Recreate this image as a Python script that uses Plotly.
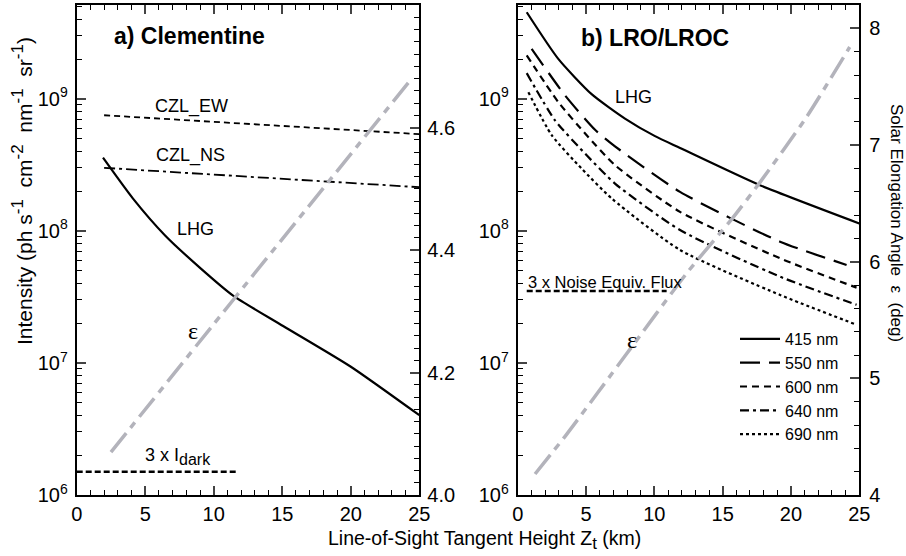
import numpy as np
import plotly.graph_objects as go

# ---------------- data ----------------
# Panel a) Clementine
a_czl_ew_x = [2.0, 25.0]
a_czl_ew_y = [7.5e8, 5.4e8]
a_czl_ns_x = [2.0, 25.0]
a_czl_ns_y = [3.0e8, 2.14e8]
a_lhg_x = [1.92, 4.11, 6.45, 9.0, 11.41, 15.06, 19.95, 25.0]
a_lhg_y = [10**8.554, 10**8.244, 10**7.965, 10**7.72, 10**7.51, 10**7.28, 10**6.975, 10**6.604]
a_idark_x = [0.0, 11.8]
a_idark_y = [1.5e6, 1.5e6]
a_eps_x = [2.5, 11.4, 24.2]
a_eps_y = [4.07, 4.318, 4.673]

# Panel b) LRO/LROC
b_415_x = [0.66, 2.97, 5.41, 7.85, 10.05, 11.88, 17.73, 25.0]
b_415_y = [10**9.655, 10**9.302, 10**9.035, 10**8.850, 10**8.717, 10**8.628, 10**8.346, 10**8.056]
b_550_x = [1.02, 3.46, 5.66, 7.12, 11.88, 19.2, 24.07]
b_550_y = [10**9.378, 10**9.026, 10**8.765, 10**8.640, 10**8.295, 10**7.918, 10**7.742]
b_600_x = [0.66, 2.97, 5.05, 7.12, 11.88, 19.2, 24.8]
b_600_y = [10**9.328, 10**8.975, 10**8.724, 10**8.497, 10**8.144, 10**7.792, 10**7.57]
b_640_x = [0.66, 2.73, 5.05, 7.12, 11.88, 19.2, 24.8]
b_640_y = [10**9.194, 10**8.837, 10**8.572, 10**8.358, 10**8.006, 10**7.653, 10**7.44]
b_690_x = [0.78, 2.49, 4.68, 6.88, 11.88, 19.2, 24.8]
b_690_y = [10**9.05, 10**8.724, 10**8.471, 10**8.245, 10**7.855, 10**7.515, 10**7.289]
b_noise_x = [0.66, 10.9]
b_noise_y = [3.5e7, 3.5e7]
b_eps_x = [1.27, 3.58, 7.97, 12.36, 15.77, 17.73, 21.14, 24.3]
b_eps_y = [4.18, 4.52, 5.21, 5.90, 6.38, 6.68, 7.24, 7.84]

legend_names = ["415 nm", "550 nm", "600 nm", "640 nm", "690 nm"]
log_tickvals = [1e6, 1e7, 1e8, 1e9]
log_ticktext = ["10<sup>6</sup>", "10<sup>7</sup>", "10<sup>8</sup>", "10<sup>9</sup>"]
log_minor_vals = [m * 10**e for e in range(6, 10) for m in range(2, 10)]

# ---------------- figure ----------------
W, H = 906, 556
BLACK = "#000000"
GRAY = "#b3b3bb"
FONT = "Liberation Sans, Arial, sans-serif"

fig = go.Figure()

def line(x, y, xa, ya, dash, width=2, color=BLACK, name=None, show=False):
    fig.add_trace(go.Scatter(x=x, y=y, xaxis=xa, yaxis=ya, mode="lines",
                             line=dict(color=color, width=width, dash=dash, shape="spline", smoothing=0.6),
                             name=name, showlegend=show, hoverinfo="skip"))

# panel a
line(a_czl_ew_x, a_czl_ew_y, "x", "y", "6px,4px", 1.8)
line(a_czl_ns_x, a_czl_ns_y, "x", "y", "11px,4px,3px,4px", 1.8)
line(a_lhg_x, a_lhg_y, "x", "y", "solid", 2.2)
line(a_idark_x, a_idark_y, "x", "y", "6px,3px", 2.4)
line(a_eps_x, a_eps_y, "x", "y2", "24px,7px,7px,7px", 3.5, GRAY)

# panel b
line(b_415_x, b_415_y, "x2", "y3", "solid", 2.2, name=legend_names[0], show=True)
line(b_550_x, b_550_y, "x2", "y3", "20px,9px", 2.2, name=legend_names[1], show=True)
line(b_600_x, b_600_y, "x2", "y3", "7px,5px", 2.2, name=legend_names[2], show=True)
line(b_640_x, b_640_y, "x2", "y3", "9px,4px,3px,4px", 2.2, name=legend_names[3], show=True)
line(b_690_x, b_690_y, "x2", "y3", "3px,3px", 2.2, name=legend_names[4], show=True)
line(b_noise_x, b_noise_y, "x2", "y3", "6px,3px", 2.4)
line(b_eps_x, b_eps_y, "x2", "y4", "24px,7px,7px,7px", 3.5, GRAY)

ydom = [1 - 495 / H, 1 - 5 / H]
xdomA = [76.7 / W, 419.3 / W]
xdomB = [517.7 / W, 859.3 / W]

tickfont = dict(family=FONT, size=20, color=BLACK)
common_x = dict(range=[0, 25], tickvals=[0, 5, 10, 15, 20, 25], ticks="inside", ticklen=9,
                tickwidth=1.5, showline=True, linewidth=2, linecolor=BLACK, mirror="ticks",
                showgrid=False, zeroline=False, tickfont=tickfont, automargin=False,
                minor=dict(dtick=1, ticks="inside", ticklen=5, tickwidth=1.2, tickcolor=BLACK, showgrid=False))
common_log = dict(type="log", range=[6, 9.71], tickvals=log_tickvals, ticktext=log_ticktext,
                  ticks="inside", ticklen=9, tickwidth=1.5, showline=True, linewidth=2, linecolor=BLACK,
                  showgrid=False, zeroline=False, tickfont=tickfont, automargin=False, ticklabelstandoff=3,
                  minor=dict(tickmode="array", tickvals=log_minor_vals, ticks="inside", ticklen=5,
                             tickwidth=1.2, tickcolor=BLACK, showgrid=False))

fig.update_layout(
    width=W, height=H,
    margin=dict(l=0, r=0, t=0, b=0),
    paper_bgcolor="white", plot_bgcolor="white",
    font=dict(family=FONT, color=BLACK),
    xaxis=dict(domain=xdomA, anchor="y", **common_x),
    xaxis2=dict(domain=xdomB, anchor="y3", **common_x),
    yaxis=dict(domain=ydom, anchor="x", **common_log),
    yaxis2=dict(domain=ydom, anchor="x", overlaying="y", side="right", range=[4.0, 4.8],
                tickvals=[4.0, 4.2, 4.4, 4.6, 4.8], ticktext=["4.0", "4.2", "4.4", "4.6", "4.8"],
                ticks="inside", ticklen=9, tickwidth=1.5, showline=True, linewidth=2, linecolor=BLACK,
                showgrid=False, zeroline=False, tickfont=tickfont, automargin=False, ticklabelstandoff=2,
                minor=dict(dtick=0.02, ticks="inside", ticklen=5, tickwidth=1.2, tickcolor=BLACK, showgrid=False)),
    yaxis3=dict(domain=ydom, anchor="x2", **common_log),
    yaxis4=dict(domain=ydom, anchor="x2", overlaying="y3", side="right", range=[4.0, 8.2],
                tickvals=[4, 5, 6, 7, 8], ticks="inside", ticklen=9, tickwidth=1.5,
                showline=True, linewidth=2, linecolor=BLACK, showgrid=False, zeroline=False,
                tickfont=tickfont, automargin=False, ticklabelstandoff=4,
                minor=dict(dtick=0.2, ticks="inside", ticklen=5, tickwidth=1.2, tickcolor=BLACK, showgrid=False)),
    legend=dict(x=735 / W, y=1 - 322 / H, xanchor="left", yanchor="top",
                bgcolor="rgba(0,0,0,0)", font=dict(family=FONT, size=16, color=BLACK),
                tracegroupgap=0, itemwidth=40),
    showlegend=True,
)

def ann(text, x, y, xref="paper", yref="paper", size=18, bold=False, xanchor="center",
        yanchor="middle", angle=0, family=FONT):
    fig.add_annotation(text=f"<b>{text}</b>" if bold else text, x=x, y=y, xref=xref, yref=yref,
                       showarrow=False, xanchor=xanchor, yanchor=yanchor, textangle=angle,
                       font=dict(family=family, size=size, color=BLACK))

SUPS = "<sup><span style='font-size:17px'>{}</span></sup>"

# panel a labels (data coordinates; log axis -> log10 values)
ann("a) Clementine", 8.2, 9.476, "x", "y", size=23, bold=True)
ann("CZL_EW", 8.4, 8.94, "x", "y", size=18)
ann("CZL_NS", 8.27, 8.569, "x", "y", size=18)
ann("LHG", 8.64, 8.017, "x", "y", size=18)
ann("ε", 8.49, 7.239, "x", "y", size=24, family="Liberation Serif, Times New Roman, serif")
ann("3 x I<sub><span style='font-size:16px'>dark</span></sub>", 4.85, 6.29, "x", "y", size=18, xanchor="left")

# panel b labels
ann("b) LRO/LROC", 10.05, 9.458, "x2", "y3", size=23, bold=True)
ann("LHG", 8.44, 9.013, "x2", "y3", size=18)
ann("ε", 8.36, 7.177, "x2", "y3", size=24, family="Liberation Serif, Times New Roman, serif")
ann("3 x Noise Equiv. Flux", 6.39, 7.616, "x2", "y3", size=16.5)

# axis titles
ytitle = ("Intensity (ph s" + SUPS.format("-1") + "  cm" + SUPS.format("-2") + "  nm" + SUPS.format("-1")
          + "  sr" + SUPS.format("-1") + ")")
ann(ytitle, 22 / W, 1 - 191 / H, size=21, angle=-90)
ann("Solar Elongation Angle  ε  (deg)", 896 / W, 1 - 223 / H, size=17, angle=90)
ann("Line-of-Sight Tangent Height Z<sub><span style='font-size:17px'>t</span></sub> (km)",
    485 / W, 1 - 540 / H, size=19.5)

fig.write_html("out.html", config={"displayModeBar": False},
               post_script="document.body.style.margin='0px';")
